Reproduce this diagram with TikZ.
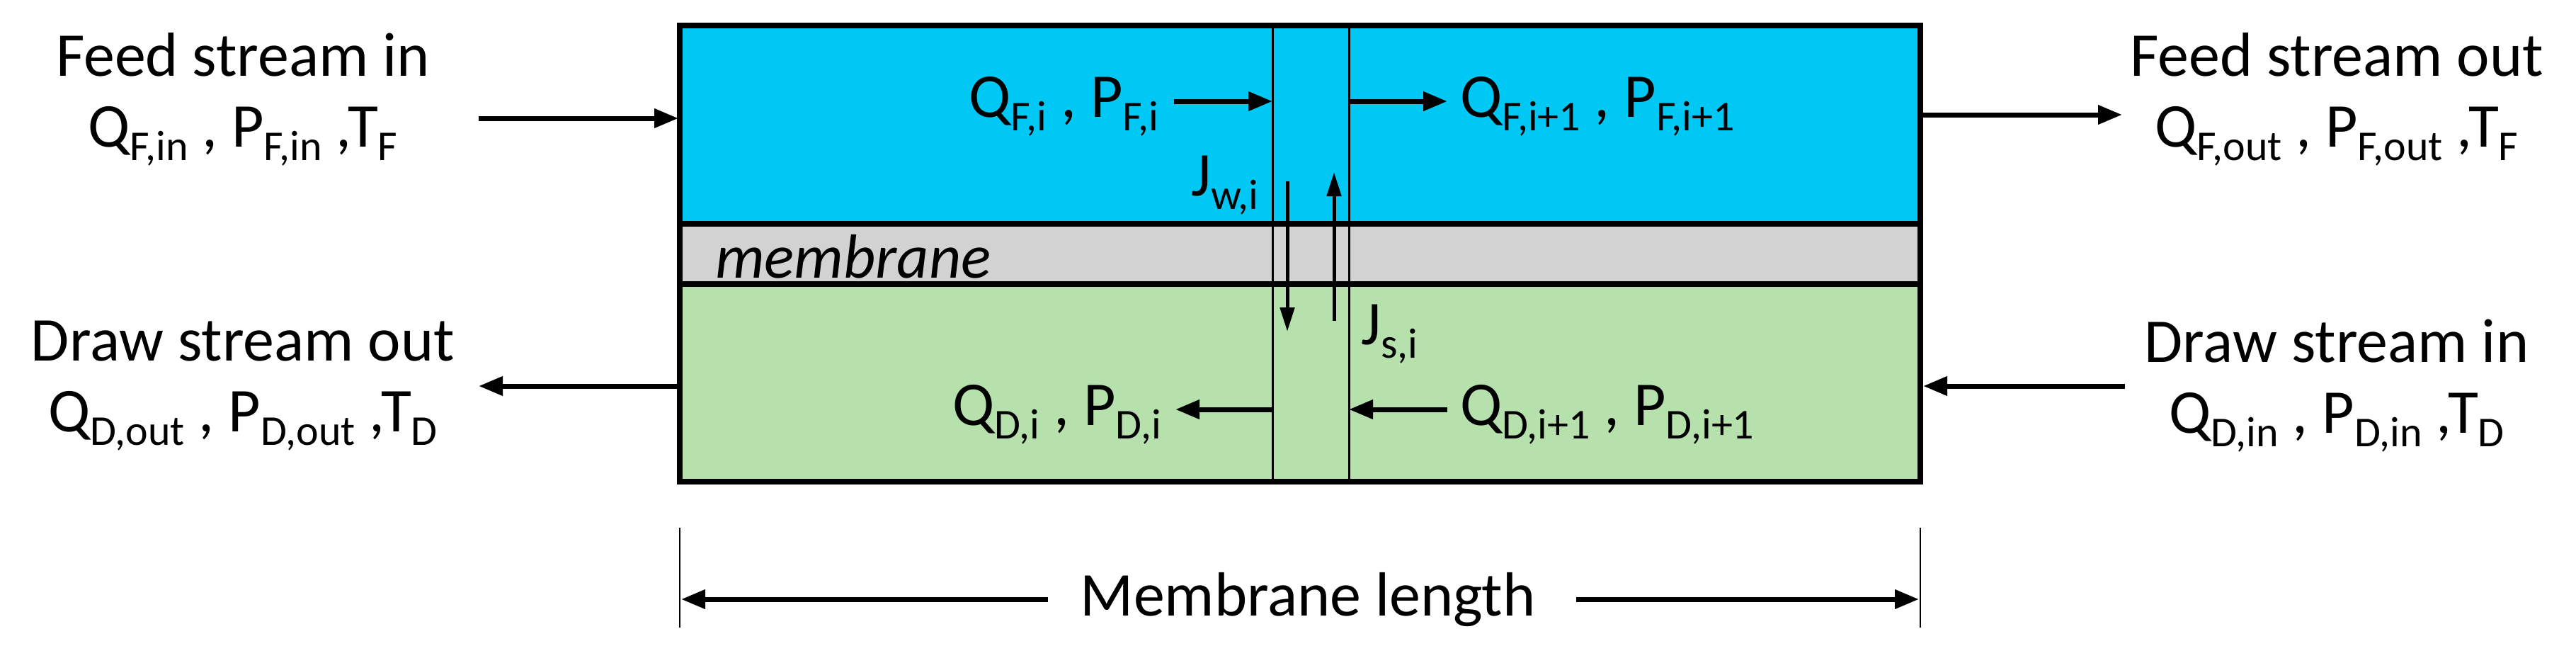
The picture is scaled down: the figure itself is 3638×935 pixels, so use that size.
\documentclass[tikz,border=0pt]{standalone}
\usepackage{fontspec}
\setmainfont{Carlito}
\usetikzlibrary{arrows.meta}
\newcommand{\sbs}[1]{\raisebox{-0.45ex}{\fontsize{60}{60}\selectfont #1}}
\begin{document}
\begin{tikzpicture}[x=1pt,y=-1pt,
  every node/.style={font=\fontsize{88}{100}\selectfont, inner sep=0pt},
  arr/.style={line width=7pt,-{Triangle[length=34pt,width=26pt]}},
  thin/.style={line width=3pt}]
\useasboundingbox (0,0) rectangle (3638,935);
\fill[fill={rgb,255:red,0;green,200;blue,245}] (960,36) rectangle (2712,316);
\fill[fill={rgb,255:red,210;green,210;blue,210}] (960,316) rectangle (2712,401);
\fill[fill={rgb,255:red,182;green,224;blue,172}] (960,401) rectangle (2712,680);
\draw[line width=8pt] (960,316) -- (2712,316) (960,401) -- (2712,401);
\draw[line width=8pt] (960,36) rectangle (2712,680);
\draw[thin] (1797,36) -- (1797,680) (1905,36) -- (1905,680);
\node[anchor=west] (mem) at (1010,362) {\itshape membrane};
% outer texts
\node[align=center] (fin) at (343,140) {Feed stream in\\Q\sbs{F,in} , P\sbs{F,in} ,T\sbs{F}};
\node[align=center] (fout) at (3300,140) {Feed stream out\\Q\sbs{F,out} , P\sbs{F,out} ,T\sbs{F}};
\node[align=center] (dout) at (343,545) {Draw stream out\\Q\sbs{D,out} , P\sbs{D,out} ,T\sbs{D}};
\node[align=center] (din) at (3300,545) {Draw stream in\\Q\sbs{D,in} , P\sbs{D,in} ,T\sbs{D}};
\coordinate (a1) at (676,167); \coordinate (a2) at (958,167);
\coordinate (b1) at (2712,162); \coordinate (b2) at (2997,162);
\coordinate (c1) at (960,545); \coordinate (c2) at (676,545);
\coordinate (d1) at (3001,545); \coordinate (d2) at (2716,545);
\draw[arr] (a1) -- (a2); \draw[arr] (b1) -- (b2);
\draw[arr] (c1) -- (c2); \draw[arr] (d1) -- (d2);
% inner
\node[anchor=east] (qf) at (1636,150) {Q\sbs{F,i} , P\sbs{F,i}};
\node[anchor=west] (qf1) at (2062,150) {Q\sbs{F,i+1} , P\sbs{F,i+1}};
\node[anchor=east] (qd) at (1640,585) {Q\sbs{D,i} , P\sbs{D,i}};
\node[anchor=west] (qd1) at (2062,585) {Q\sbs{D,i+1} , P\sbs{D,i+1}};
\coordinate (e1) at (1658,143); \coordinate (e2) at (1797,143);
\coordinate (f1) at (1905,143); \coordinate (f2) at (2044,143);
\coordinate (g1) at (1797,578); \coordinate (g2) at (1660,578);
\coordinate (h1) at (2044,578); \coordinate (h2) at (1905,578);
\draw[arr] (e1) -- (e2); \draw[arr] (f1) -- (f2);
\draw[arr] (g1) -- (g2); \draw[arr] (h1) -- (h2);
\coordinate (w1) at (1818,256); \coordinate (w2) at (1818,468);
\coordinate (s1) at (1884,453); \coordinate (s2) at (1884,243);
\draw[line width=5pt,-{Triangle[length=34pt,width=20pt]}] (w1) -- (w2);
\draw[line width=5pt,-{Triangle[length=34pt,width=20pt]}] (s1) -- (s2);
\node[anchor=east] (jw) at (1777,262) {J\sbs{w,i}};
\node[anchor=west] (js) at (1922,472) {J\sbs{s,i}};
% dimension
\draw[line width=2pt] (960,745) -- (960,886) (2712,745) -- (2712,886);
\node (ml) at (1847,846) {Membrane length};
\coordinate (m1) at (1480,846); \coordinate (m2) at (2226,846);
\coordinate (ml0) at (962,846); \coordinate (mr0) at (2710,846);
\draw[arr] (m1) -- (ml0); \draw[arr] (m2) -- (mr0);
\end{tikzpicture}
\end{document}
